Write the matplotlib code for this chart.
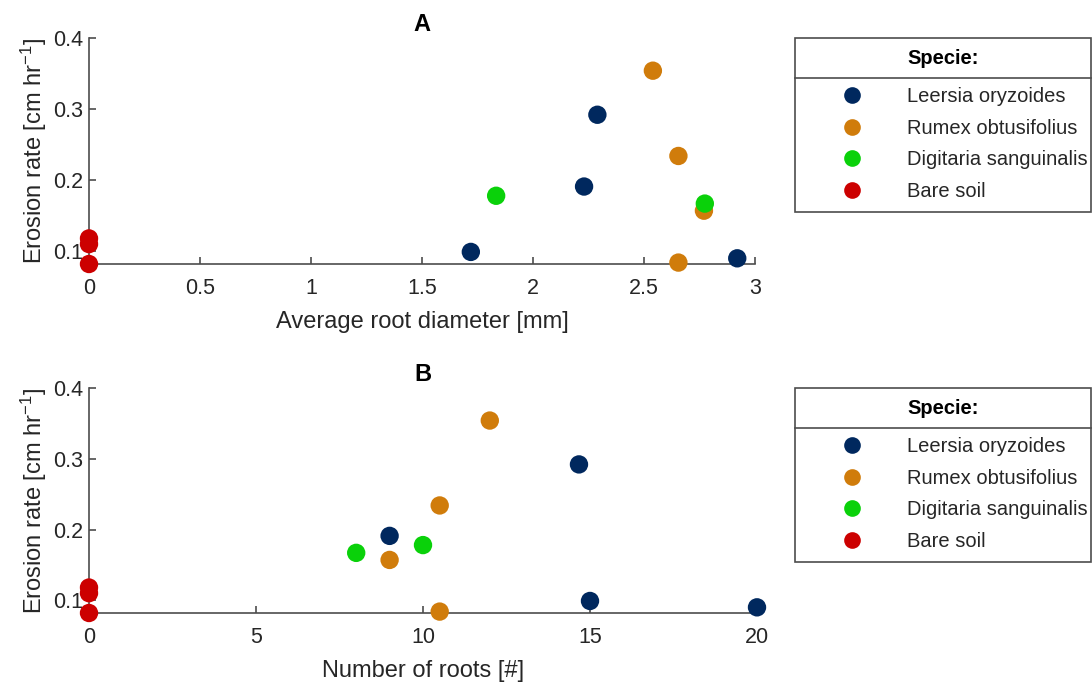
import numpy as np
import matplotlib
matplotlib.use('Agg')
import matplotlib.pyplot as plt
from matplotlib.lines import Line2D
from matplotlib.patches import Rectangle

plt.rcParams['font.family'] = ['Liberation Sans', 'DejaVu Sans']
plt.rcParams['mathtext.fontset'] = 'custom'
plt.rcParams['mathtext.rm'] = 'Liberation Sans'
plt.rcParams['mathtext.it'] = 'Liberation Sans:italic'

# Данные
species = ['Leersia oryzoides', 'Rumex obtusifolius', 'Digitaria sanguinalis', 'Bare soil']
colors = ['#00285e', '#d07c0b', '#0ad10a', '#cc0000']

diam_leersia = [1.72, 2.23, 2.29, 2.92]
roots_leersia = [15, 9, 14.67, 20]
eros_leersia = [0.099, 0.191, 0.292, 0.090]

diam_rumex = [2.54, 2.655, 2.77, 2.655]
roots_rumex = [12, 10.5, 9, 10.5]
eros_rumex = [0.354, 0.234, 0.157, 0.084]

diam_digit = [1.834, 2.774]
roots_digit = [10, 8]
eros_digit = [0.178, 0.167]

diam_bare = [0, 0, 0]
roots_bare = [0, 0, 0]
eros_bare = [0.118, 0.110, 0.082]

panel_a = [(diam_leersia, eros_leersia), (diam_rumex, eros_rumex),
           (diam_digit, eros_digit), (diam_bare, eros_bare)]
panel_b = [(roots_leersia, eros_leersia), (roots_rumex, eros_rumex),
           (roots_digit, eros_digit), (roots_bare, eros_bare)]

W, H = 1092, 690
fig = plt.figure(figsize=(W / 100, H / 100), dpi=100)
edge = '#4d4d4d'

axes_px = [(89, 264, 755, 38), (89, 613, 757, 388)]
panels = [
    (panel_a, 'A', 'Average root diameter [mm]', [0, 3], [0, 0.5, 1, 1.5, 2, 2.5, 3],
     ['0', '0.5', '1', '1.5', '2', '2.5', '3']),
    (panel_b, 'B', 'Number of roots [#]', [0, 20], [0, 5, 10, 15, 20],
     ['0', '5', '10', '15', '20']),
]
legend_px = [(795, 38, 1091, 78, 212), (795, 388, 1091, 428, 562)]

for (l, b, r, t), (data, title, xlabel, xlim, xticks, xticklabels), lg in zip(axes_px, panels, legend_px):
    ax = fig.add_axes([l / W, 1 - b / H, (r - l) / W, (b - t) / H])
    for (x, y), c in zip(data, colors):
        ax.scatter(x, y, s=175, color=c, edgecolors='none', clip_on=False, zorder=3)
    ax.set_xlim(xlim)
    ax.set_ylim(0.082, 0.4)
    ax.set_xticks(xticks)
    ax.set_xticklabels(xticklabels)
    ax.set_yticks([0.1, 0.2, 0.3, 0.4])
    ax.set_yticklabels(['0.1', '0.2', '0.3', '0.4'])
    for s in ['top', 'right']:
        ax.spines[s].set_visible(False)
    for s in ['left', 'bottom']:
        ax.spines[s].set_color(edge)
        ax.spines[s].set_linewidth(1.2)
    ax.tick_params(direction='in', length=5, width=1.2, color=edge,
                   labelsize=15.5, labelcolor='#262626')
    ax.tick_params(axis='x', pad=10)
    ax.tick_params(axis='y', pad=4)
    ax.set_xlabel(xlabel, fontsize=17, color='#262626', labelpad=9)
    ax.set_ylabel('Erosion rate [cm hr$^{-1}$]', fontsize=17, color='#262626', labelpad=3)
    ax.set_title(title, fontsize=17, fontweight='bold', pad=5)

    # легенда: рамка, заголовок и разделитель отдельно
    x0, y0, x1, ysep, y1 = lg
    fig.add_artist(Rectangle((x0 / W, 1 - y1 / H), (x1 - x0) / W, (y1 - y0) / H,
                             transform=fig.transFigure, facecolor='white',
                             edgecolor=edge, linewidth=1.2, zorder=1))
    fig.add_artist(Line2D([x0 / W, x1 / W], [1 - ysep / H] * 2,
                          transform=fig.transFigure, color=edge, linewidth=1.2, zorder=2))
    fig.text((x0 + x1) / 2 / W, 1 - (y0 + ysep) / 2 / H, 'Specie:', fontsize=14.5,
             fontweight='bold', ha='center', va='center', zorder=3)
    handles = [Line2D([], [], marker='o', linestyle='none', markersize=12,
                      markerfacecolor=c, markeredgecolor='none') for c in colors]
    leg = fig.legend(handles, species, loc='upper left',
                     bbox_to_anchor=(x0 / W, 1 - ysep / H),
                     fontsize=14.5, frameon=False,
                     borderpad=0.45, labelspacing=0.63, handlelength=4.8,
                     handletextpad=0.3, borderaxespad=0)
    leg.set_zorder(4)
    for txt in leg.get_texts():
        txt.set_color('#262626')

plt.savefig('out.png', dpi=100)
